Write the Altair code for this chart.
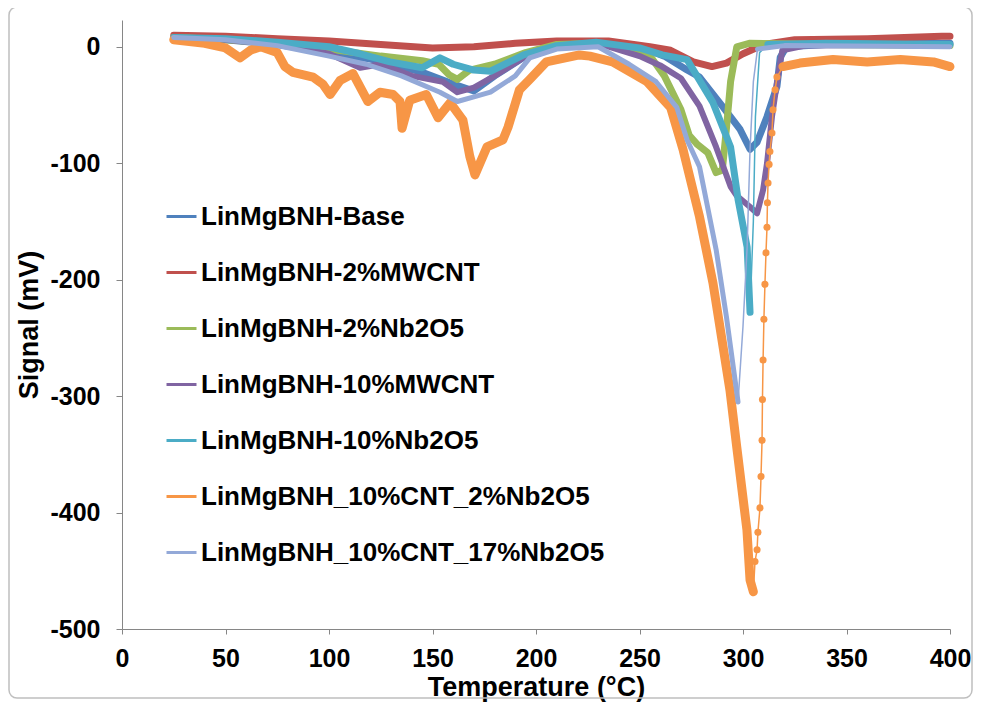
import altair as alt
import pandas as pd

SERIES = ["LinMgBNH-Base", "LinMgBNH-2%MWCNT", "LinMgBNH-2%Nb2O5", "LinMgBNH-10%MWCNT",
          "LinMgBNH-10%Nb2O5", "LinMgBNH_10%CNT_2%Nb2O5", "LinMgBNH_10%CNT_17%Nb2O5"]
COLORS = ["#4F81BD", "#C0504D", "#9BBB59", "#8064A2", "#4BACC6", "#F79646", "#93A9D8"]

X_TICKS = [0, 50, 100, 150, 200, 250, 300, 350, 400]
Y_TICKS = [-500, -400, -300, -200, -100, 0]

T_BASE = [25, 50, 75, 100, 125, 145, 160, 170, 180, 195, 210, 230, 250, 262, 273, 279, 290, 298.6, 303.4, 306.8, 311.6, 316.4, 318, 321, 340, 370, 400]
V_BASE = [8, 6, 2, -5, -12, -22, -32, -38, -25, -8, 0, 3, 0, -8, -20, -26, -51, -71, -88, -82, -60, -34, -9, 0, 2, 3, 3]

T_RED = [25, 50, 75, 100, 125, 150, 170, 190, 210, 235, 255, 265, 276, 285, 292, 300, 310, 325, 360, 396, 400]
V_RED = [10, 9, 7, 5, 2, -1, 0, 3, 5, 5, 0, -3, -13, -17, -14, -6, 2, 6, 7, 9, 9]

T_GRN = [25, 50, 75, 100, 125, 145, 153, 158, 162, 168, 180, 195, 210, 230, 245, 256, 262, 270, 274, 278, 283, 287, 290, 292, 294, 297, 303, 340, 400]
V_GRN = [8, 6, 3, -2, -8, -12, -15, -24, -28, -20, -15, -5, 2, 3, -2, -10, -25, -54, -76, -84, -91, -108, -106, -70, -30, 0, 3, 2, 1]

T_PUR = [25, 50, 75, 100, 115, 125, 140, 155, 162, 170, 180, 195, 210, 230, 250, 260, 270, 279, 287, 294, 297, 303, 306.8, 309.7, 311.6, 314, 316.4, 319, 330, 400]
V_PUR = [8, 6, 2, -6, -18, -15, -25, -30, -39, -35, -25, -8, 0, 3, -8, -16, -27, -51, -86, -120, -128, -137, -143, -123, -100, -60, -31, -3, 1, 2]

T_CYN = [25, 50, 75, 100, 115, 129.5, 145, 153.6, 160, 170, 178, 194, 210, 229, 250, 261, 273, 285.5, 294, 297.6, 302, 303.4, 305, 306, 308, 312, 340, 400]
V_CYN = [8, 7, 4, 0, -6, -13, -18, -9.5, -15, -20, -21, -7, 1, 4, -1, -7, -11, -48, -86, -131, -172, -228, -150, -60, -5, 2, 3, 2]

T_ORG = [25, 40, 50, 57, 62, 67, 75, 78.7, 82.6, 92.3, 97, 100.5, 105.3, 111.6, 118.8, 124.6, 131, 134.3, 135.3, 139,
         147, 152.7, 158.5, 164.7, 168, 170.5, 176.3, 184, 186.5, 192, 197, 205, 221, 226, 237, 253.6, 265, 271, 279,
         285.5, 293.7, 297, 301.9, 303.4, 305,
         305.8, 306.8, 307.2, 308.2, 308.7, 309.2, 309.4, 309.7, 310.1, 310.6, 311.1, 311.6, 311.8, 312.1, 312.6, 313,
         314, 314.5, 315.5, 316.4, 319.3, 327.5, 343.5, 360, 376, 392, 400]
V_ORG = [6, 3, -1, -9.5, -3, 0, -5, -17, -22, -26, -32, -41, -29, -23, -47, -39, -41, -47, -70, -46,
         -41, -61, -48, -63, -94, -110, -86, -80, -69, -37, -28, -13, -7, -8, -13, -30, -52, -88, -146,
         -203, -295, -344, -415, -458, -468,
         -442, -432, -417, -396, -369, -338, -303, -269, -234, -204, -177, -155, -134, -117, -101, -90,
         -74, -54, -37, -26, -17, -14, -11, -13, -11, -13, -17]

T_LAV = [25, 50, 75, 100, 118, 135, 153.6, 162, 170, 178, 190, 197, 210, 230, 245, 258, 268, 273, 279, 287, 292, 297.6, 300, 302, 303.4, 305, 307, 320, 400]
V_LAV = [8, 6, 1, -8, -15, -25, -39, -47, -43, -39, -25, -9.5, -2, 0, -15, -30, -52, -80, -103, -174, -232, -305, -240, -172, -88, -30, -2, 1, 0]

DATA = [(T_BASE, V_BASE), (T_RED, V_RED), (T_GRN, V_GRN), (T_PUR, V_PUR),
        (T_CYN, V_CYN), (T_ORG, V_ORG), (T_LAV, V_LAV)]

# style: line widths and the temperature ranges drawn as thin lines
THICK = [7, 7, 7, 6, 7, 9, 5]
THIN = {4: (303.4, 312), 5: (305, 319.3), 6: (297.6, 307)}
FONT = "Liberation Sans"

color = alt.Color(
    "series:N",
    scale=alt.Scale(domain=SERIES, range=COLORS),
    legend=alt.Legend(
        title=None, orient="none", legendX=43, legendY=180, padding=0,
        symbolType="stroke", symbolStrokeWidth=3, symbolSize=900,
        labelFont=FONT, labelFontSize=26, labelFontWeight="bold", labelColor="#000000",
        labelLimit=500, labelOffset=3, rowPadding=26, symbolOpacity=1,
    ),
)
xenc = alt.X("T:Q", scale=alt.Scale(domain=[0, 400], nice=False),
             axis=alt.Axis(values=X_TICKS, title="Temperature (°C)", labelPadding=12,
                           tickSize=5, titlePadding=3, labelFlush=False))
yenc = alt.Y("V:Q", scale=alt.Scale(domain=[-500, 23], nice=False, zero=False),
             axis=alt.Axis(values=Y_TICKS, title="Signal (mV)", labelPadding=16,
                           tickSize=6, titlePadding=6, labelExpr="'' + datum.value"))

border = alt.Chart(pd.DataFrame({"b": [0]})).mark_rect(
    filled=False, stroke="#BFBFBF", strokeWidth=1.5, cornerRadius=8
).encode(x=alt.value(-113), x2=alt.value(850), y=alt.value(-13), y2=alt.value(678))

layers = [border]
for i, (name, (T, V)) in enumerate(zip(SERIES, DATA)):
    pts = list(zip(T, V))
    if i in THIN:
        a, b = THIN[i]
        segs = [([p for p in pts if p[0] <= a], THICK[i]),
                ([p for p in pts if a <= p[0] <= b], 1.5),
                ([p for p in pts if p[0] >= b], THICK[i])]
    else:
        segs = [(pts, THICK[i])]
    for seg, w in segs:
        df = pd.DataFrame({"T": [p[0] for p in seg], "V": [p[1] for p in seg],
                           "o": list(range(len(seg))), "series": name})
        layers.append(alt.Chart(df).mark_line(strokeWidth=w, strokeJoin="round", strokeCap="round").encode(
            x=xenc, y=yenc, color=color, order="o:Q"))
        if i == 5 and w < 2:
            layers.append(alt.Chart(df).mark_point(filled=True, size=50, opacity=1).encode(
                x=xenc, y=yenc, color=alt.value(COLORS[5])))

chart = alt.layer(*layers).properties(
    width=828, height=609,
    autosize=alt.AutoSizeParams(type="none"),
    padding={"left": 114, "top": 12, "right": 23, "bottom": 73},
).configure_view(stroke=None).configure_axis(
    grid=False, domainColor="#868686", tickColor="#868686", domainWidth=1,
    labelFont=FONT, labelFontSize=25, labelFontWeight="bold", labelColor="#000000",
    titleFont=FONT, titleFontSize=27, titleFontWeight="bold", titleColor="#000000",
)

chart.save("out.html", embed_options={"renderer": "svg", "actions": False})
